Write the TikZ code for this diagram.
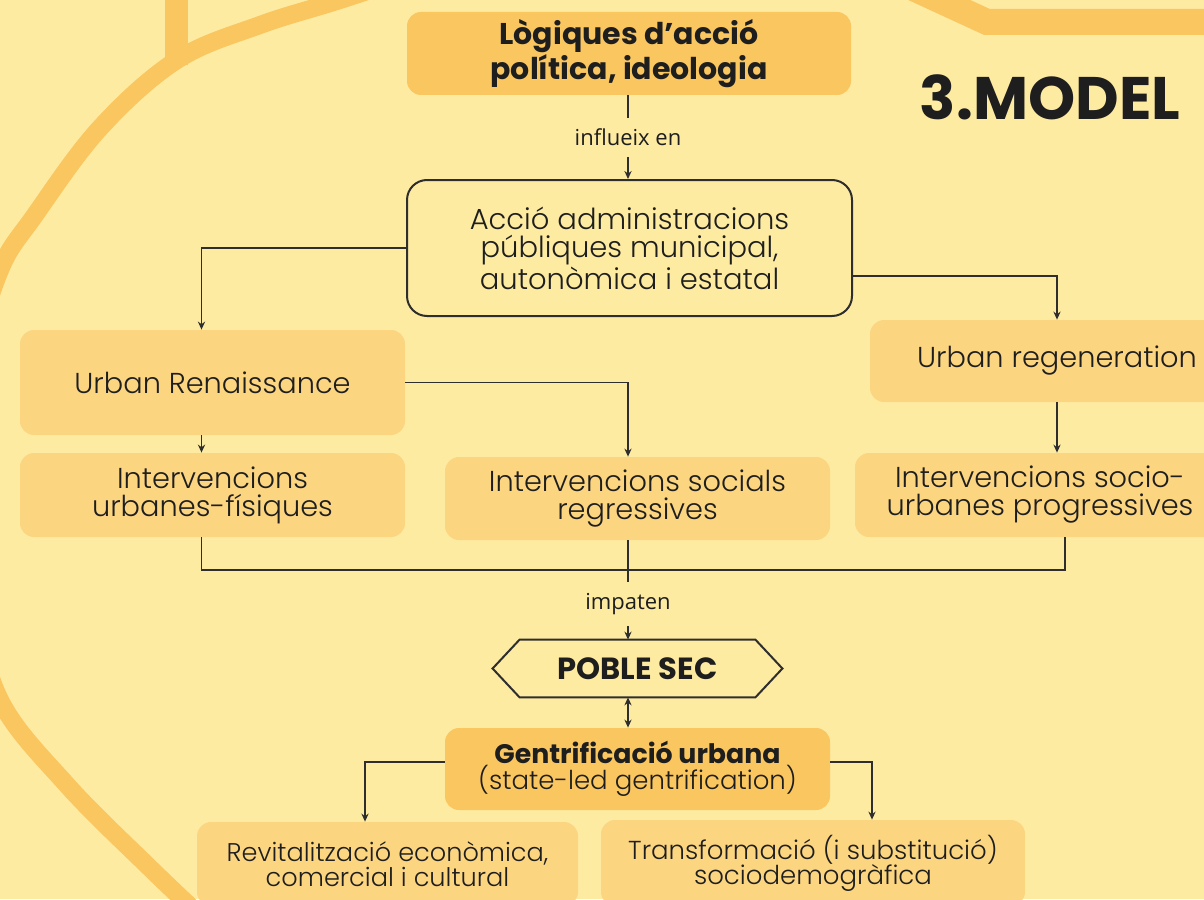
\documentclass[tikz,border=0pt]{standalone}
\usepackage{fontspec}
\setmainfont{Poppins}[UprightFont=* Light, BoldFont=* Bold]
\newfontfamily\lblfont{Open Sans}
\usetikzlibrary{arrows.meta,calc}
\definecolor{bg}{HTML}{FEEBA2}
\definecolor{boxc}{HTML}{FCD581}
\definecolor{darkc}{HTML}{FAC660}
\definecolor{ink}{HTML}{1E1E1E}
\definecolor{linec}{HTML}{2E2E2E}
\begin{document}
\begin{tikzpicture}[x=0.5pt,y=-0.5pt,
  softbox/.style={fill=boxc, rounded corners=7pt, align=center, text=ink, inner sep=0pt, font=\fontsize{14.4}{14}\selectfont},
  darkbox/.style={softbox, fill=darkc},
  conn/.style={draw=linec, line width=0.9pt},
  arr/.style={conn, -{Stealth[length=4pt,width=3.6pt]}},
  darr/.style={conn, {Stealth[length=4pt,width=3.6pt]}-{Stealth[length=4pt,width=3.6pt]}},
  lbl/.style={fill=bg, font=\lblfont\fontsize{11}{12}\selectfont, text=ink, inner xsep=2pt, inner ysep=5.5pt},
  deco/.style={draw=darkc, line width=9pt}
]
\useasboundingbox (0,0) rectangle (1204,899);
\clip (0,0) rectangle (1204,899);
\fill[bg] (0,0) rectangle (1204,899);
% decorative shapes
\draw[deco] plot[smooth, tension=0.6] coordinates {(430,-30) (340,0) (260,25) (177,60) (100,128) (35,215) (0,270) (-25,360) (-32,480) (-25,600) (0,700) (67,785) (150,868) (210,925)};
\draw[deco, line width=11.5pt] (176,-10) -- (176,65);
\draw[deco, line width=13pt, line join=miter] (885,-25) -- (987,22) -- (1230,22);

% nodes
\node[darkbox, minimum width=222pt, minimum height=41.5pt, font=\bfseries\fontsize{15}{13.5}\selectfont] (logic) at (629,53.5) {Lògiques d’acció\\política, ideologia};
\node[font=\bfseries\fontsize{30}{31}\selectfont, text=ink] (title) at (1050,97) {3.MODEL};
\node[draw=linec, line width=1pt, rounded corners=10pt, minimum width=222.5pt, minimum height=68pt, align=center, inner sep=0pt, font=\fontsize{14.5}{14}\selectfont, text=ink] (admin) at (629.5,248) {Acció administracions\\públiques municipal,\\autonòmica i estatal};
\node[softbox, minimum width=192.5pt, minimum height=52.5pt] (ren) at (212.5,382.5) {Urban Renaissance};
\node[softbox, minimum width=187pt, minimum height=41pt] (regen) at (1057,361) {Urban regeneration};
\node[softbox, minimum width=192.5pt, minimum height=42pt] (fis) at (212.5,495) {Intervencions\\urbanes-físiques};
\node[softbox, minimum width=192.5pt, minimum height=41.5pt] (soc) at (637.5,498.5) {Intervencions socials\\regressives};
\node[softbox, minimum width=185pt, minimum height=42pt] (socio) at (1040,495) {Intervencions socio-\\urbanes progressives};
\node[minimum width=117.5pt, minimum height=28.5pt, inner sep=0pt, font=\bfseries\fontsize{15.3}{16}\selectfont, text=ink] (poble) at (637.5,668.5) {POBLE SEC};
\draw[line width=1pt, draw=linec] (poble.north west) -- (poble.north east) -- ($(poble.east)+(27,0)$) -- (poble.south east) -- (poble.south west) -- ($(poble.west)+(-27,0)$) -- cycle;
\node[darkbox, minimum width=192.5pt, minimum height=41pt, font=\fontsize{13}{13}\selectfont] (gent) at (637.5,769) {{\bfseries\fontsize{13.4}{13}\selectfont Gentrificació urbana}\\(state-led gentrification)};
\node[softbox, minimum width=190.5pt, minimum height=42pt, font=\fontsize{12.8}{12.5}\selectfont] (rev) at (387.5,864) {Revitalització econòmica,\\comercial i cultural};
\node[softbox, minimum width=212pt, minimum height=43pt, font=\fontsize{13}{12.5}\selectfont] (trans) at (813,863) {Transformació (i substitució)\\sociodemogràfica};

% connectors
\coordinate (ax) at (628,0);
\coordinate (merge) at (628,570);
\draw[arr] (ax |- logic.south) -- node[lbl]{influeix en} (ax |- admin.north);
\draw[arr] (admin.west) -| ([xshift=-5.5pt]ren.north);
\draw[arr] ([yshift=-14pt]admin.east) -| (regen.north);
\draw[arr] ([xshift=-5.5pt]ren.south) -- ([xshift=-5.5pt]fis.north);
\draw[arr] (ren.east) -| (ax |- soc.north);
\draw[arr] (regen.south) -- (regen.south |- socio.north);
\draw[conn] ([xshift=-5.5pt]fis.south) |- (merge) -| ([xshift=12.5pt]socio.south);
\draw[arr] (ax |- soc.south) -- node[lbl, pos=0.64]{impaten} (ax |- poble.north);
\draw[darr] (ax |- poble.south) -- (ax |- gent.north);
\draw[arr] ([yshift=3.5pt]gent.west) -| ([xshift=-11.25pt]rev.north);
\draw[arr] ([yshift=3.5pt]gent.east) -| ([xshift=29.5pt]trans.north);
\end{tikzpicture}
\end{document}
